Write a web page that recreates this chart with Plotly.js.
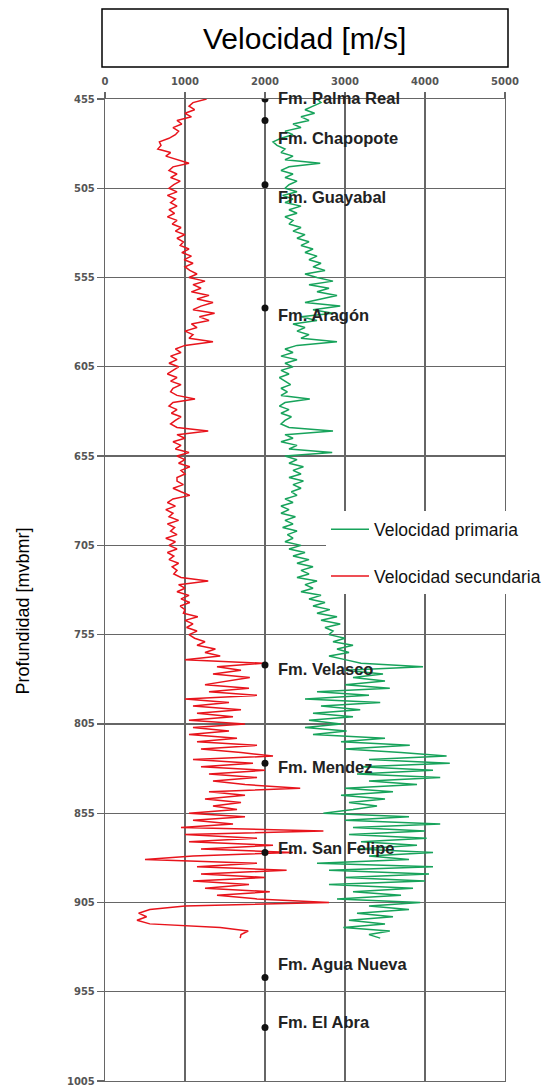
<!DOCTYPE html>
<html>
<head>
<meta charset="utf-8">
<script src="https://cdn.plot.ly/plotly-3.0.1.min.js"></script>
<style>
  html, body { margin: 0; padding: 0; background: #ffffff; }
  #chart { width: 552px; height: 1087px; }
</style>
</head>
<body>
<div id="chart"></div>
<script>
// ---------------- DATA ----------------
const profundidad = [
  455,457,459,461,463,465,467,469,471,473,
  475,477,479,481,483,485,487,489,491,493,
  495,497,499,501,503,505,507,509,511,513,
  515,517,519,521,523,525,527,529,531,533,
  535,537,539,541,543,545,547,549,551,553,
  555,557,559,561,563,565,567,569,571,573,
  575,577,579,581,583,585,587,589,591,593,
  595,597,599,601,603,605,607,609,611,613,
  615,617,619,621,623,625,627,629,631,633,
  635,637,639,641,643,645,647,649,651,653,
  655,657,659,661,663,665,667,669,671,673,
  675,677,679,681,683,685,687,689,691,693,
  695,697,699,701,703,705,707,709,711,713,
  715,717,719,721,723,725,727,729,731,733,
  735,737,739,741,743,745,747,749,751,753,
  755,757,759,761,763,765,767,769,771,773,
  775,777,779,781,783,785,787,789,791,793,
  795,797,799,801,803,805,807,809,811,813,
  815,817,819,821,823,825,827,829,831,833,
  835,837,839,841,843,845,847,849,851,853,
  855,857,859,861,863,865,867,869,871,873,
  875,877,879,881,883,885,887,889,891,893,
  895,897,899,901,903,905,907,909,911,913,
  915,917,919,921,923,925
];

const velocidadPrimaria = [
  2650,2700,2600,2500,2620,2450,2550,2350,2450,2250,
  2350,2200,2100,2150,2250,2200,2350,2250,2690,2300,
  2200,2350,2250,2400,2300,2250,2400,2220,2350,2250,
  2450,2300,2400,2250,2350,2300,2450,2350,2500,2400,
  2550,2450,2600,2500,2650,2550,2700,2600,2750,2500,
  2650,2850,2550,2800,2650,2900,2700,2500,2940,2600,
  2850,2450,2650,2350,2500,2400,2550,2450,2900,2400,
  2250,2350,2200,2400,2250,2350,2200,2300,2180,2250,
  2320,2200,2280,2200,2560,2250,2180,2300,2200,2330,
  2250,2200,2300,2850,2250,2350,2200,2400,2300,2840,
  2250,2400,2300,2480,2350,2450,2300,2480,2350,2450,
  2330,2400,2250,2350,2200,2300,2200,2380,2250,2350,
  2220,2400,2280,2350,2250,2450,2300,2500,2350,2550,
  2400,2600,2450,2550,2400,2650,2500,2600,2450,2700,
  2550,2750,2600,2810,2650,2900,2700,2940,2750,2850,
  2800,3000,2850,3100,2900,3050,2800,3000,3200,3975,
  3000,3475,3100,3500,3000,3560,2650,3300,2500,3440,
  2700,3190,2600,3100,2550,2950,2500,3020,2600,3500,
  2950,3810,3000,3700,4270,3300,4310,3200,4100,3150,
  4190,3300,3900,3000,3600,2950,3500,3050,3400,3100,
  2730,3800,3000,4190,3100,4000,3050,4020,3200,3900,
  3150,4100,3300,3800,2650,4100,2800,4050,3000,4000,
  2800,3850,3100,3700,2900,3940,3300,3800,3150,3600,
  3050,3500,2980,3560,3300,3440
];

const velocidadSecundaria = [
  1270,1100,1050,1120,1000,1080,900,960,850,920,
  880,800,680,700,660,820,760,900,1050,850,
  800,900,820,940,860,800,900,780,880,820,
  900,800,870,780,900,840,950,880,1000,900,
  980,940,1050,960,1080,990,1100,1000,1060,1150,
  1050,1250,1100,1200,1080,1300,1150,1350,1200,1100,
  1370,1180,1300,1080,1150,1000,1100,1050,1350,1000,
  880,950,820,900,800,920,850,780,900,820,
  950,850,820,900,1125,850,800,900,830,950,
  880,820,900,1290,900,1000,850,950,880,1050,
  900,1000,920,1060,950,1000,900,900,980,850,
  950,1060,850,780,880,760,850,800,920,780,
  870,820,900,760,880,800,900,780,860,800,
  920,840,900,860,950,1290,920,1000,900,1050,
  950,1060,940,1000,980,1160,1000,1100,1020,1150,
  1050,1120,1250,1150,1380,1250,1440,1000,1975,1400,
  1700,1350,1810,1500,1250,1800,1300,1900,1000,1550,
  1100,1700,1150,1600,1050,1750,1100,1550,1050,1650,
  1150,1900,1200,1700,2100,1100,1850,1200,2000,1300,
  1900,1350,1750,2440,1300,1750,1250,1700,1350,1650,
  1050,1750,1100,1600,950,2730,1000,1900,1050,2100,
  1200,2350,1100,500,1900,1150,2270,1200,2000,1100,
  1800,1250,2060,1400,1900,2800,1000,560,420,520,
  400,560,1440,1790,1700,1690
];

const formaciones = ['Fm. Palma Real','Fm. Chapopote','Fm. Guayabal','Fm. Aragón','Fm. Velasco','Fm. Mendez','Fm. San Felipe','Fm. Agua Nueva','Fm. El Abra'];
const profundidadFormaciones = [455, 467, 503, 572, 772, 827, 877, 947, 975];
const velocidadFormaciones = [2000, 2000, 2000, 2000, 2000, 2000, 2000, 2000, 2000];

const ticksVelocidad = [0, 1000, 2000, 3000, 4000, 5000];
const ticksProfundidad = [455, 505, 555, 605, 655, 705, 755, 805, 855, 905, 955, 1005];

const nombrePrimaria = 'Velocidad primaria';
const nombreSecundaria = 'Velocidad secundaria';
const tituloGrafico = 'Velocidad [m/s]';
const tituloEjeY = 'Profundidad [mvbmr]';

// ---------------- STYLE / LAYOUT ----------------
const gridColor = '#666666';
const labelShift = [1, -18, -12, -7, -4, -4, 4, 13, 5];

const traces = [
  {
    x: velocidadPrimaria, y: profundidad, type: 'scatter', mode: 'lines',
    name: nombrePrimaria, legendgroup: 'a',
    line: { color: '#17a35b', width: 1.5 }
  },
  {
    x: velocidadSecundaria, y: profundidad, type: 'scatter', mode: 'lines',
    name: nombreSecundaria, legendgroup: 'b',
    line: { color: '#e8141c', width: 1.5 }
  },
  {
    x: velocidadFormaciones, y: profundidadFormaciones, type: 'scatter', mode: 'markers',
    showlegend: false, hoverinfo: 'skip',
    marker: { color: '#111111', size: 7 }
  }
];

const annotations = formaciones.map((f, i) => ({
  x: velocidadFormaciones[i], y: profundidadFormaciones[i], xref: 'x', yref: 'y',
  text: f, showarrow: false, xanchor: 'left', yanchor: 'middle',
  xshift: 11, yshift: labelShift[i],
  font: { family: 'Liberation Sans, Arial, sans-serif', size: 16.5, color: '#222222', weight: 'bold' }
}));

annotations.push({
  xref: 'paper', yref: 'paper', x: 0.4975, y: 1.0621,
  text: tituloGrafico, showarrow: false, xanchor: 'center', yanchor: 'middle',
  font: { family: 'Liberation Sans, Arial, sans-serif', size: 30, color: '#000000' }
});
annotations.push({
  xref: 'paper', yref: 'paper', x: -0.205, y: 0.478,
  text: tituloEjeY, showarrow: false, textangle: -90, xanchor: 'center', yanchor: 'middle',
  font: { family: 'Liberation Sans, Arial, sans-serif', size: 18, color: '#000000' }
});

const layout = {
  width: 552, height: 1087,
  margin: { l: 105, r: 47, t: 99, b: 6, pad: 0 },
  paper_bgcolor: '#ffffff', plot_bgcolor: '#ffffff',
  showlegend: true,
  legend: {
    x: 0.5525, xanchor: 'left', y: 0.58, yanchor: 'top',
    bgcolor: '#ffffff', borderwidth: 0,
    itemwidth: 38, tracegroupgap: 21, traceorder: 'grouped',
    font: { family: 'Liberation Sans, Arial, sans-serif', size: 17.5, color: '#111111' }
  },
  xaxis: {
    side: 'top', range: [0, 5000], tickvals: ticksVelocidad,
    ticktext: ticksVelocidad.map(String),
    showgrid: true, gridcolor: gridColor, gridwidth: 1.2,
    showline: true, linecolor: gridColor, linewidth: 1.2, mirror: true,
    ticks: 'outside', ticklen: 6, tickcolor: gridColor, tickwidth: 1.2,
    ticklabelstandoff: 3,
    zeroline: false, fixedrange: true,
    tickfont: { family: 'DejaVu Sans, sans-serif', size: 10, color: '#555555', weight: 'bold' }
  },
  yaxis: {
    range: [1005, 455], tickvals: ticksProfundidad,
    ticktext: ticksProfundidad.map(String),
    ticklabeloverflow: 'allow',
    showgrid: true, gridcolor: gridColor, gridwidth: 1.2,
    showline: true, linecolor: gridColor, linewidth: 1.2, mirror: true,
    ticks: 'outside', ticklen: 7, tickcolor: gridColor, tickwidth: 1.2,
    zeroline: false, fixedrange: true,
    tickfont: { family: 'DejaVu Sans, sans-serif', size: 10, color: '#555555', weight: 'bold' }
  },
  shapes: [
    {
      type: 'rect', xref: 'paper', yref: 'paper',
      x0: -0.0075, x1: 1.0075, y0: 1.0326, y1: 1.0916,
      line: { color: '#000000', width: 1.5 }, fillcolor: 'rgba(0,0,0,0)'
    }
  ],
  annotations: annotations
};

Plotly.newPlot('chart', traces, layout, { displayModeBar: false, staticPlot: true });
</script>
</body>
</html>
